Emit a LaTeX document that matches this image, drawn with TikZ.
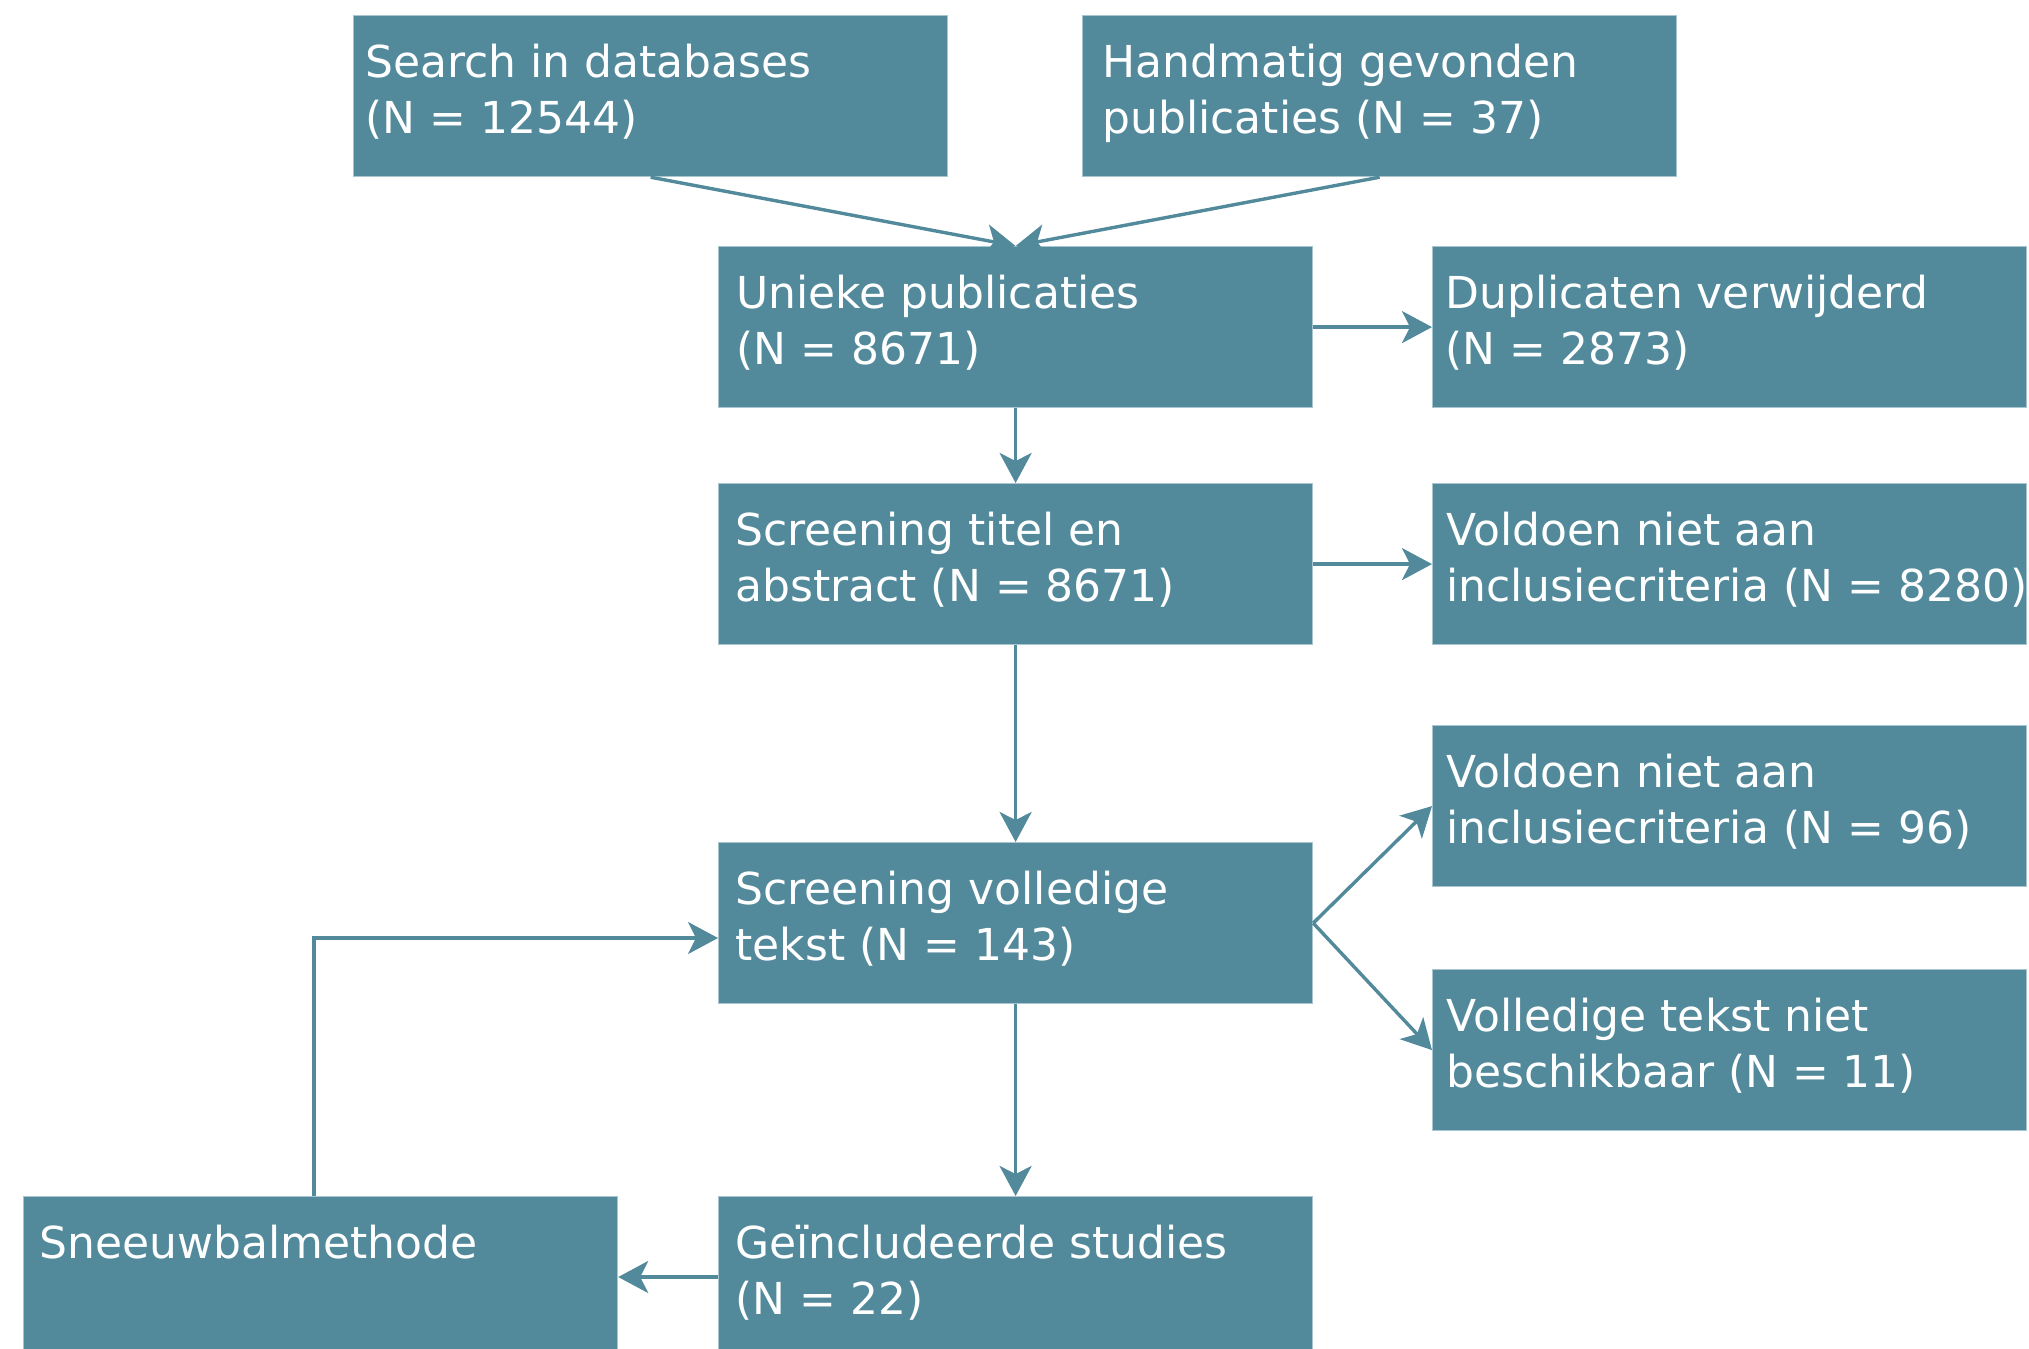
\documentclass[tikz,border=0pt]{standalone}
\usepackage{fontspec}
\setmainfont{DejaVu Sans}
\usetikzlibrary{arrows.meta,calc}
\definecolor{teal}{RGB}{82,138,155}
\definecolor{boxedge}{RGB}{168,198,207}
\newcommand{\mystrut}{\rule{0pt}{31pt}}
\tikzset{
  box/.style={draw=boxedge, line width=0.6pt, fill=teal, minimum width=297pt, minimum height=80.5pt, inner sep=0pt, anchor=north west},
  txt/.style={text=white, font=\fontsize{22}{28}\selectfont, align=left, inner sep=0pt, anchor=north west},
  arr/.style={draw=teal, line width=1.7pt, -{Stealth[length=15pt,width=16pt,inset=4pt]}},
}
\begin{document}
\begin{tikzpicture}[x=0.5pt,y=-0.5pt]
\useasboundingbox (0,0) rectangle (2029,1349);
% boxes
\node[box] (srch) at (353,15) {};
\node[box] (hand) at (1082,15) {};
\node[box] (uniq) at (718,246) {};
\node[box] (dup) at (1432,246) {};
\node[box] (scr1) at (718,483) {};
\node[box] (exc1) at (1432,483) {};
\node[box] (exc2) at (1432,725) {};
\node[box] (scr2) at (718,842) {};
\node[box] (nav) at (1432,969) {};
\node[box] (incl) at (718,1196) {};
\node[box] (snow) at (23,1196) {};
% texts
\node[txt] (srch-t) at (365,15) {\mystrut Search in databases\\(N = 12544)};
\node[txt] (hand-t) at (1102,15) {\mystrut Handmatig gevonden\\publicaties (N = 37)};
\node[txt] (uniq-t) at (736,246) {\mystrut Unieke publicaties\\(N = 8671)};
\node[txt] (dup-t) at (1445,246) {\mystrut Duplicaten verwijderd\\(N = 2873)};
\node[txt] (scr1-t) at (735,483) {\mystrut Screening titel en\\abstract (N = 8671)};
\node[txt] (exc1-t) at (1446,483) {\mystrut Voldoen niet aan\\inclusiecriteria (N = 8280)};
\node[txt] (exc2-t) at (1446,725) {\mystrut Voldoen niet aan\\inclusiecriteria (N = 96)};
\node[txt] (scr2-t) at (735,842) {\mystrut Screening volledige\\tekst (N = 143)};
\node[txt] (nav-t) at (1446,969) {\mystrut Volledige tekst niet\\beschikbaar (N = 11)};
\node[txt] (incl-t) at (735,1196) {\mystrut Geïncludeerde studies\\(N = 22)};
\node[txt] (snow-t) at (39,1196) {\mystrut Sneeuwbalmethode};
% connectors
\draw[arr] (srch.south) -- (uniq.north);
\draw[arr] (hand.south) -- (uniq.north);
\draw[arr] (uniq.east) -- (dup.west);
\draw[arr] (uniq.south) -- (scr1.north);
\draw[arr] (scr1.east) -- (exc1.west);
\draw[arr] (scr1.south) -- (scr2.north);
\draw[arr] (scr2.east) -- (exc2.west);
\draw[arr] (scr2.east) -- (nav.west);
\draw[arr] (scr2.south) -- (incl.north);
\draw[arr] (incl.west |- 0,1277) -- (snow.east |- 0,1277);
\coordinate (knee) at (314,938);
\draw[arr] (knee |- snow.north) -- (knee) -- (scr2.west |- knee);
\end{tikzpicture}
\end{document}
